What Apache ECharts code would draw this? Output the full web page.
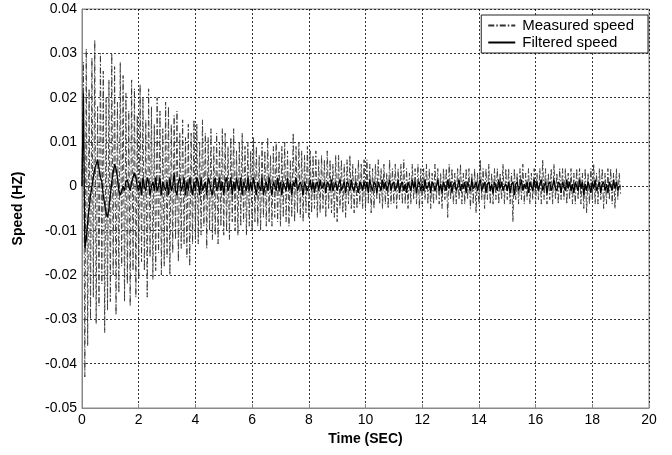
<!DOCTYPE html>
<html><head><meta charset="utf-8">
<script src="https://cdn.jsdelivr.net/npm/echarts@6/dist/echarts.min.js"></script>
<style>html,body{margin:0;padding:0;background:#fff}#c{width:672px;height:455px}</style>
</head><body><div id="c"></div>
<script>
// sample interval of both signals (seconds)
const sampleStep = 0.05;
const xTicks = [0,2,4,6,8,10,12,14,16,18,20];
const yTicks = [-0.05,-0.04,-0.03,-0.02,-0.01,0,0.01,0.02,0.03,0.04];
const seriesNames = ['Measured speed','Filtered speed'];

// Measured speed, one value per 0.05 s (rows = 1 s)
const measured = [
0,.028,-.043,.031,-.036,.022,-.030,.029,-.025,.033,-.031,.018,-.027,.030,-.022,.026,-.033,.020,-.028,.024,
-.026,.030,-.020,.027,-.029,.019,-.024,.028,-.018,.025,-.026,.021,-.022,.017,-.027,.024,-.019,.022,-.025,.016,
-.021,.023,-.017,.020,-.019,.015,-.025,.022,-.016,.018,-.021,.014,-.019,.020,-.015,.017,-.020,.013,-.018,.019,
-.016,.018,-.020,.014,-.015,.016,-.012,.017,-.017,.012,-.014,.015,-.013,.011,-.016,.014,-.018,.012,-.013,.015,
-.012,.014,-.013,.010,-.011,.015,-.009,.012,-.014,.011,-.010,.013,-.012,.009,-.011,.012,-.013,.010,-.009,.013,
-.011,.012,-.010,.009,-.012,.011,-.008,.013,-.010,.008,-.011,.010,-.009,.012,-.008,.009,-.011,.010,-.009,.008,
-.010,.011,-.008,.009,-.009,.007,-.010,.010,-.007,.008,-.009,.011,-.008,.007,-.009,.009,-.007,.010,-.008,.008,
-.009,.009,-.007,.010,-.008,.008,-.009,.006,-.007,.012,-.008,.009,-.006,.010,-.007,.008,-.008,.007,-.006,.009,
-.007,.008,-.006,.007,-.005,.008,-.007,.006,-.006,.007,-.005,.006,-.007,.008,-.005,.006,-.006,.005,-.007,.007,
-.008,.007,-.005,.006,-.006,.005,-.007,.006,-.004,.007,-.005,.005,-.006,.004,-.005,.006,-.004,.005,-.005,.006,
-.005,.006,-.004,.005,-.006,.004,-.005,.005,-.003,.006,-.004,.004,-.005,.005,-.004,.003,-.005,.006,-.004,.004,
-.004,.005,-.005,.004,-.003,.005,-.004,.006,-.004,.004,-.005,.003,-.004,.005,-.003,.004,-.004,.005,-.005,.004,
-.004,.004,-.003,.005,-.004,.004,-.005,.003,-.004,.005,-.003,.004,-.004,.003,-.005,.004,-.003,.004,-.007,.005,
-.003,.004,-.004,.003,-.004,.004,-.003,.005,-.004,.003,-.004,.004,-.003,.004,-.005,.003,-.004,.004,-.006,.003,
-.004,.006,-.003,.004,-.005,.004,-.003,.005,-.004,.003,-.004,.004,-.003,.004,-.004,.003,-.003,.005,-.004,.004,
-.003,.004,-.004,.003,-.008,.004,-.003,.003,-.004,.004,-.003,.005,-.004,.003,-.003,.004,-.004,.003,-.003,.004,
-.004,.003,-.003,.004,-.004,.006,-.003,.004,-.004,.003,-.003,.004,-.004,.005,-.003,.003,-.004,.004,-.003,.004,
-.003,.004,-.004,.003,-.003,.004,-.004,.003,-.004,.004,-.003,.004,-.004,.003,-.005,.004,-.006,.003,-.004,.004,
-.003,.005,-.004,.003,-.004,.004,-.003,.004,-.005,.003,-.004,.004,-.003,.004,-.004,.003,-.005,.004,-.003,.003,
-.002
];

// Filtered speed, one value per 0.05 s (rows = 1 s)
const filtered = [
0,.021,-.014,-.012,-.008,-.005,-.002,0,.002,.004,.005,.006,.004,.002,.001,-.002,-.004,-.006,-.007,-.005,
-.002,.001,.003,.005,.004,.002,-.001,-.002,-.001,0,-.001,.001,.0015,0,-.001,.001,.002,.003,.002,0,
-.001,.001,-.002,.002,0,-.001,.002,.001,-.002,0,.001,-.001,.002,-.001,0,.002,-.002,.001,0,-.001,
.001,-.002,.002,-.001,0,.003,-.001,-.002,.001,.002,-.001,0,.002,-.002,.001,-.001,.002,0,-.002,.001,
-.001,.002,.001,-.002,.002,-.001,0,.001,-.002,.002,.001,-.001,-.002,.001,.002,-.001,0,.002,-.001,.001,
-.002,.001,.002,-.001,0,.002,-.002,.001,-.001,.002,0,-.001,.002,-.002,.001,0,-.001,.002,-.001,.001,
-.001,.002,0,-.002,.001,.001,-.001,.002,-.002,0,.001,-.001,.002,0,-.002,.001,0,-.001,.002,-.001,
.001,-.002,.001,0,-.001,.002,-.001,.001,-.002,.001,0,.002,-.001,-.001,.001,0,-.002,.001,.001,-.001,
0,.0015,-.001,.001,-.0015,.0005,.001,-.001,.0015,-.0005,0,.001,-.0015,.001,.0005,-.001,.0015,-.001,0,.001,
-.001,.0005,.0015,-.001,0,.001,-.0015,.001,.0005,-.001,.0015,-.0005,-.001,.001,0,-.0015,.001,.0005,-.001,.001,
-.0005,.001,-.0015,.0015,0,-.001,.001,.0005,-.0015,.001,0,-.001,.0015,-.0005,.001,-.001,0,.0015,-.001,.0005,
.001,-.001,0,.0015,-.0015,.0005,.001,-.001,.0005,-.0015,.001,0,-.001,.0015,-.0005,.001,-.0015,.0005,.001,-.001,
.0005,-.001,.0015,-.0005,0,.001,-.0015,.001,.0005,-.001,0,.0015,-.001,.0005,-.0015,.001,0,-.001,.0015,-.0005,
.001,-.0015,.0005,.001,-.001,0,.0015,-.001,.0005,-.0005,.001,-.0015,.001,0,-.001,.0015,-.0005,0,.001,-.001,
.0005,.0015,-.001,0,.001,-.0015,.0005,.001,-.001,.0005,-.0015,.001,0,-.001,.0015,-.0005,.001,-.001,0,.0005,
-.001,.001,-.0015,.0005,.001,-.002,.0005,.001,-.001,0,.0015,-.001,.0005,-.0005,.001,-.0015,.001,0,-.001,.0015,
-.0005,.001,-.001,.0005,.0015,-.001,0,.001,-.0015,.0005,.001,-.001,0,.0015,-.0005,-.001,.001,.0005,-.0015,.001,
0,-.001,.0015,-.0005,.001,-.001,.0005,-.0015,.001,0,-.001,.0015,-.0005,.001,-.002,.0005,-.001,.001,0,-.0015,
.001,-.0005,.0015,-.001,0,.001,-.0015,.0005,.001,-.001,.0005,-.0015,.001,0,-.001,.0015,-.0005,.001,-.001,0,
0
];

const toPairs = arr => arr.map((v, i) => [+(i * sampleStep).toFixed(2), v]);

const font = 'Liberation Sans, Arial, sans-serif';
const chart = echarts.init(document.getElementById('c'), null, {renderer: 'canvas'});
chart.setOption({
  animation: false,
  backgroundColor: '#fff',
  grid: {left: 82, right: 23, top: 9, bottom: 47, show: true, borderColor: '#888', borderWidth: 1, containLabel: false},
  legend: {
    data: seriesNames, orient: 'vertical', right: 24, top: 15,
    backgroundColor: '#fff', borderColor: '#222', borderWidth: 1, borderRadius: 0, padding: [3, 14, 3, 6],
    itemWidth: 27, itemHeight: 14, itemGap: 2,
    itemStyle: {opacity: 0},
    textStyle: {fontFamily: font, fontSize: 15, color: '#000', padding: [0, 0, 0, 2]}
  },
  xAxis: {
    type: 'value', min: xTicks[0], max: xTicks[xTicks.length - 1], interval: 2,
    name: 'Time (SEC)', nameLocation: 'middle', nameGap: 22,
    nameTextStyle: {fontFamily: font, fontSize: 14, fontWeight: 'bold', color: '#000'},
    axisLine: {show: true, onZero: false, lineStyle: {color: '#888', width: 1}},
    axisTick: {show: true, inside: true, length: 4, lineStyle: {color: '#888'}},
    axisLabel: {fontFamily: font, fontSize: 14, color: '#000', margin: 5},
    splitLine: {show: true, lineStyle: {color: '#000', type: [2, 2], width: 0.8}}
  },
  yAxis: {
    type: 'value', min: yTicks[0], max: yTicks[yTicks.length - 1], interval: 0.01,
    name: 'Speed (HZ)', nameLocation: 'middle', nameGap: 57, nameRotate: 90,
    nameTextStyle: {fontFamily: font, fontSize: 14, fontWeight: 'bold', color: '#000'},
    axisLine: {show: true, onZero: false, lineStyle: {color: '#888', width: 1}},
    axisTick: {show: true, inside: true, length: 4, lineStyle: {color: '#888'}},
    axisLabel: {fontFamily: font, fontSize: 14, color: '#000', margin: 5,
      formatter: v => Math.abs(v) < 1e-9 ? '0' : String(+v.toFixed(2))},
    splitLine: {show: true, lineStyle: {color: '#000', type: [2, 2], width: 0.8}}
  },
  series: [
    {name: seriesNames[0], type: 'line', data: toPairs(measured), symbol: 'none', showSymbol: false,
     itemStyle: {color: '#333'},
     lineStyle: {color: '#333', width: 0.9, type: [6, 2, 1.5, 2]}, z: 2},
    {name: seriesNames[1], type: 'line', data: toPairs(filtered), symbol: 'none', showSymbol: false,
     itemStyle: {color: '#000'},
     lineStyle: {color: '#000', width: 1.3, type: 'solid'}, z: 3}
  ]
});
</script></body></html>
